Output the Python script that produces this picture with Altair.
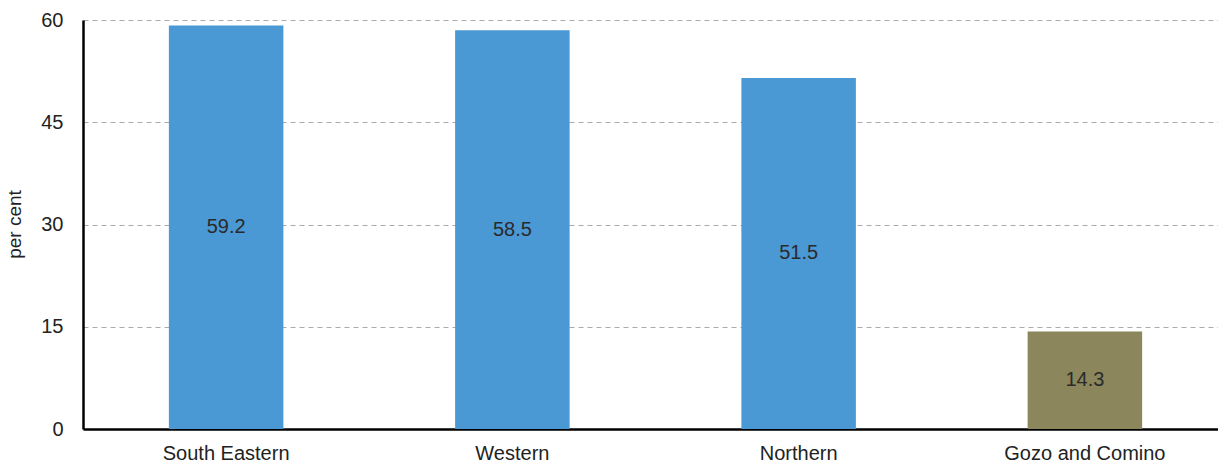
import altair as alt
import pandas as pd

regions = ["South Eastern", "Western", "Northern", "Gozo and Comino"]
values = [59.2, 58.5, 51.5, 14.3]
colors = ["#4A98D4", "#4A98D4", "#4A98D4", "#8B865B"]

df = pd.DataFrame({"region": regions, "value": values, "color": colors})
df["label"] = df["value"].map(lambda v: f"{v:.1f}")
df["half"] = df["value"] / 2

FONT = "Liberation Sans"

x = alt.X("region:N", sort=regions, title=None,
          scale=alt.Scale(paddingInner=0.6, paddingOuter=0.3, range=[0, 1145]),
          axis=alt.Axis(labelAngle=0, labelFontSize=20, labelColor="#222222", labelFont=FONT,
                        labelPadding=14, ticks=False, domainColor="#000000", domainWidth=2.5))

bars = alt.Chart(df).mark_bar().encode(
    x=x,
    y=alt.Y("value:Q", title="per cent",
            scale=alt.Scale(domain=[0, 60], nice=False),
            axis=alt.Axis(values=[0, 15, 30, 45, 60], labelFontSize=20, labelColor="#222222",
                          labelFont=FONT, labelPadding=20, ticks=False,
                          domainColor="#000000", domainWidth=2.5,
                          grid=True, gridColor="#AAAAAA", gridDash=[5, 4], gridWidth=1.2,
                          titleFont=FONT, titleFontSize=19, titleFontWeight="normal",
                          titleColor="#222222", titleX=-63, titleY=204,
                          titleBaseline="alphabetic")),
    color=alt.Color("color:N", scale=None),
)

text = alt.Chart(df).mark_text(font=FONT, fontSize=20, color="#2a2a2a").encode(
    x=alt.X("region:N", sort=regions),
    y=alt.Y("half:Q"),
    text="label:N",
)

chart = (bars + text).properties(
    width=1135, height=409,
    autosize=alt.AutoSizeParams(type="none"),
    padding={"left": 75, "top": 12, "right": 0, "bottom": 36},
).configure_view(stroke=None)

chart.save("out.html", embed_options={"renderer": "svg", "actions": False})
